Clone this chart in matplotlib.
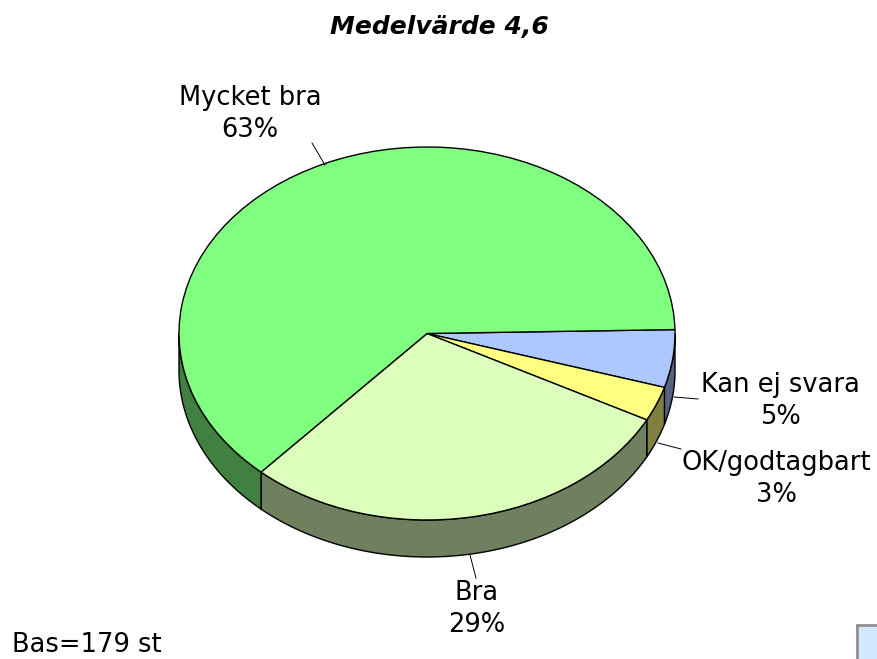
"""Pie chart with a drawn side wall, Medelvarde 4,6."""
import numpy as np
import matplotlib
matplotlib.use("Agg")
import matplotlib.pyplot as plt
from matplotlib.patches import Polygon, Rectangle
from matplotlib.lines import Line2D

W, H = 877, 659

categories = ["Kan ej svara", "OK/godtagbart", "Bra", "Mycket bra"]
values = [5, 3, 29, 63]
top_colors = ["#ADC8FF", "#FFFF80", "#DCFFBC", "#80FF80"]
side_colors = ["#566480", "#808040", "#6E805E", "#408040"]
title = "Medelvärde 4,6"
base_note = "Bas=179 st"

# pie geometry in pixels
CX, CY, RX, RY, DEPTH = 427, 333.5, 248, 186.5, 37
START = 1.2
FS = 18.5

# label centre (px), leader line (px)
label_pos = [(780, 401), (776, 479), (477, 609), (250, 114)]
leaders = [((674, 397), (698, 399)), ((658, 443), (681, 449)),
           ((470, 555), (476, 578)), ((312, 143), (325, 165))]


def fx(px):
    return px / W


def fy(py):
    return 1 - py / H


fig = plt.figure(figsize=(W / 100, H / 100), dpi=100)
ax = fig.add_axes([0, 0, 1, 1])

ax.pie(values, colors=top_colors, startangle=START, counterclock=False,
       wedgeprops={"edgecolor": "black", "linewidth": 1.0, "zorder": 5})
# the pie is squashed: data units are pie radii, the axes span the whole figure
ax.set_aspect("auto")
ax.set_xlim(-CX / RX, (W - CX) / RX)
ax.set_ylim(-(H - CY) / RY, CY / RY)

depth = DEPTH / RY
ang = START
for val, col in zip(values, side_colors):
    a0 = ang
    a1 = ang - val * 3.6
    ang = a1
    # only the part facing the viewer (lower half) has a wall
    hi = min(a0, 0)
    lo = max(a1, -180)
    t = np.radians(np.linspace(hi, lo, 120))
    x = np.cos(t)
    y = np.sin(t)
    verts = np.vstack([np.c_[x, y], np.c_[x, y - depth][::-1]])
    ax.add_patch(Polygon(verts, closed=True, facecolor=col, edgecolor="black",
                         linewidth=1.0, zorder=3))

fig.text(fx(439), fy(27), title, ha="center", va="center", fontsize=18,
         fontweight="bold", fontstyle="italic", color="black")

for cat, val, pos, seg in zip(categories, values, label_pos, leaders):
    fig.text(fx(pos[0]), fy(pos[1]), f"{cat}\n{val}%", ha="center", va="center",
             fontsize=FS, linespacing=1.28, color="black")
    fig.add_artist(Line2D([fx(seg[0][0]), fx(seg[1][0])], [fy(seg[0][1]), fy(seg[1][1])],
                          color="black", linewidth=0.7))

fig.text(fx(12), fy(645), base_note, ha="left", va="center", fontsize=FS, color="black")

# corner of the legend box, cut by the figure edge
fig.add_artist(Rectangle((fx(857), fy(700)), 60 / W, (700 - 625) / H, facecolor="#D4E8FF",
                         edgecolor="#909090", linewidth=2, transform=fig.transFigure))

fig.savefig("out.png", dpi=100)
